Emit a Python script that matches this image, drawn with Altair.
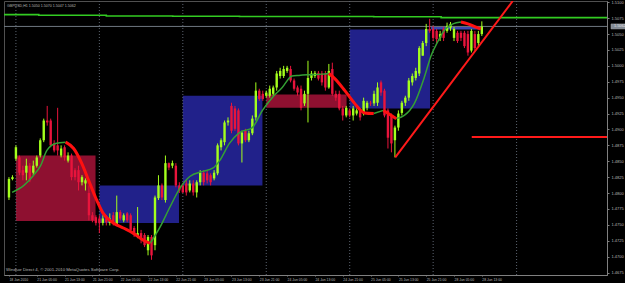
import altair as alt
import pandas as pd

# ---------------- data ----------------
opens = [1.4793,1.4822,1.4854,1.4856,1.4836,1.4832,1.4843,1.4832,1.4843,1.4859,
         1.4883,1.4914,1.4914,1.4878,1.4875,1.4859,1.4872,1.4851,1.4859,1.4836,
         1.4836,1.4817,1.4815,1.4800,1.4765,1.4762,1.4760,1.4753,1.4760,1.4753,
         1.4765,1.4749,1.4770,1.4757,1.4768,1.4765,1.4745,1.4731,1.4737,1.4734,
         1.4710,1.4731,1.4718,1.4792,1.4812,1.4789,1.4847,1.4843,1.4843,1.4812,
         1.4812,1.4815,1.4804,1.4815,1.4801,1.4817,1.4832,1.4831,1.4828,1.4823,
         1.4831,1.4872,1.4880,1.4911,1.4937,1.4933,1.4930,1.4878,1.4898,1.4883,
         1.4894,1.4919,1.4961,1.4956,1.4953,1.4953,1.4956,1.4966,1.4984,1.4984,
         1.4992,1.4995,1.4977,1.4966,1.4964,1.4941,1.4956,1.4981,1.4984,1.4989,
         1.4988,1.4988,1.4966,1.4995,1.4956,1.4956,1.4933,1.4922,1.4930,1.4922,
         1.4925,1.4930,1.4925,1.4934,1.4942,1.4941,1.4942,1.4974,1.4961,1.4930,
         1.4922,1.4883,1.4903,1.4926,1.4942,1.4950,1.4974,1.4981,1.4988,1.5016,
         1.5036,1.5058,1.5058,1.5055,1.5044,1.5058,1.5055,1.5060,1.5044,1.5052,
         1.5052,1.5052,1.5050,1.5024,1.5050,1.5036,1.5050]
highs = [1.4825,1.4828,1.4875,1.4859,1.4843,1.4854,1.4847,1.4851,1.4859,1.4886,
         1.4917,1.4937,1.4917,1.4883,1.4934,1.4875,1.4875,1.4864,1.4862,1.4839,
         1.4843,1.4828,1.4823,1.4812,1.4770,1.4765,1.4765,1.4765,1.4765,1.4768,
         1.4770,1.4796,1.4773,1.4768,1.4770,1.4768,1.4748,1.4778,1.4742,1.4737,
         1.4734,1.4734,1.4796,1.4828,1.4815,1.4859,1.4848,1.4851,1.4847,1.4817,
         1.4815,1.4820,1.4820,1.4820,1.4820,1.4836,1.4836,1.4836,1.4831,1.4836,
         1.4878,1.4886,1.4914,1.4919,1.4942,1.4937,1.4933,1.4898,1.4901,1.4898,
         1.4922,1.4974,1.4964,1.4961,1.4961,1.4969,1.4969,1.4992,1.4997,1.5000,
         1.5000,1.5000,1.4980,1.4969,1.4969,1.4961,1.5008,1.4992,1.4992,1.4992,
         1.4992,1.4992,1.5003,1.5005,1.4961,1.4961,1.4937,1.4937,1.4933,1.4937,
         1.4933,1.4933,1.4950,1.4945,1.4945,1.4961,1.4974,1.4977,1.4964,1.4933,
         1.4925,1.4906,1.4930,1.4945,1.4953,1.4981,1.4988,1.4997,1.5031,1.5039,
         1.5066,1.5074,1.5063,1.5058,1.5055,1.5061,1.5068,1.5069,1.5061,1.5055,
         1.5055,1.5055,1.5055,1.5058,1.5055,1.5055,1.5070]
lows = [1.4789,1.4820,1.4851,1.4828,1.4820,1.4820,1.4817,1.4828,1.4840,1.4856,
        1.4880,1.4906,1.4872,1.4864,1.4859,1.4856,1.4851,1.4848,1.4820,1.4820,
        1.4804,1.4812,1.4804,1.4757,1.4754,1.4749,1.4737,1.4749,1.4749,1.4749,
        1.4749,1.4748,1.4757,1.4754,1.4754,1.4737,1.4731,1.4729,1.4721,1.4715,
        1.4702,1.4695,1.4710,1.4789,1.4789,1.4785,1.4836,1.4839,1.4809,1.4800,
        1.4800,1.4796,1.4801,1.4796,1.4793,1.4812,1.4812,1.4815,1.4812,1.4820,
        1.4828,1.4867,1.4875,1.4906,1.4894,1.4898,1.4875,1.4848,1.4880,1.4880,
        1.4891,1.4914,1.4945,1.4945,1.4950,1.4950,1.4953,1.4961,1.4980,1.4981,
        1.4989,1.4974,1.4961,1.4953,1.4930,1.4937,1.4911,1.4977,1.4981,1.4977,
        1.4969,1.4961,1.4964,1.4953,1.4945,1.4930,1.4914,1.4919,1.4919,1.4914,
        1.4922,1.4914,1.4922,1.4930,1.4937,1.4937,1.4937,1.4953,1.4919,1.4870,
        1.4864,1.4856,1.4898,1.4922,1.4937,1.4945,1.4969,1.4977,1.4984,1.5016,
        1.5031,1.5052,1.5039,1.5036,1.5039,1.5039,1.5052,1.5055,1.5039,1.5036,
        1.5039,1.5028,1.5016,1.5021,1.5024,1.5031,1.5047]
closes = [1.4822,1.4825,1.4872,1.4832,1.4828,1.4843,1.4820,1.4843,1.4856,1.4883,
          1.4914,1.4911,1.4875,1.4867,1.4867,1.4870,1.4856,1.4859,1.4825,1.4825,
          1.4817,1.4825,1.4820,1.4765,1.4757,1.4753,1.4753,1.4760,1.4754,1.4760,
          1.4753,1.4770,1.4760,1.4765,1.4757,1.4742,1.4734,1.4737,1.4726,1.4718,
          1.4731,1.4702,1.4793,1.4812,1.4793,1.4847,1.4840,1.4847,1.4812,1.4804,
          1.4801,1.4801,1.4815,1.4801,1.4817,1.4832,1.4817,1.4820,1.4817,1.4832,
          1.4875,1.4883,1.4911,1.4914,1.4898,1.4901,1.4878,1.4895,1.4883,1.4894,
          1.4917,1.4961,1.4948,1.4948,1.4958,1.4964,1.4966,1.4988,1.4992,1.4995,
          1.4997,1.4977,1.4964,1.4958,1.4934,1.4956,1.4981,1.4988,1.4989,1.4980,
          1.4974,1.4966,1.4992,1.4956,1.4950,1.4933,1.4922,1.4934,1.4922,1.4933,
          1.4930,1.4919,1.4945,1.4942,1.4941,1.4956,1.4966,1.4958,1.4922,1.4887,
          1.4878,1.4903,1.4925,1.4942,1.4950,1.4977,1.4984,1.4992,1.5028,1.5036,
          1.5058,1.5055,1.5044,1.5042,1.5050,1.5044,1.5063,1.5066,1.5058,1.5039,
          1.5044,1.5031,1.5021,1.5055,1.5028,1.5050,1.5062]

# indicator line (bar index, price)
ma_idx = [0.9,4.3,7.1,9.1,10.9,13.4,16.3,18.6,20.9,22.9,24.9,27.1,30,32.9,35.7,38.6,40.6,
          43.4,46.3,49.1,52,55.7,58.6,60.6,63.4,66.3,70,72.9,75.7,78.6,81.4,83.4,86.3,90,92,
          93.7,96.6,99.4,102.3,104.9,107.7,110,111.4,113.7,116.6,119.4,121.4,123.4,125.1,
          127.7,130,132,134.3,135.7]
ma_val = [1.4801,1.4812,1.4828,1.4843,1.4867,1.4878,1.4880,1.4870,1.4847,1.4820,1.4793,
          1.4768,1.4753,1.4745,1.4737,1.4726,1.4721,1.4746,1.4778,1.4807,1.4826,1.4834,
          1.4839,1.4851,1.4878,1.4895,1.4903,1.4930,1.4950,1.4966,1.4984,1.4985,1.4986,
          1.4987,1.4988,1.4980,1.4961,1.4941,1.4926,1.4925,1.4930,1.4922,1.4917,1.4922,
          1.4941,1.4981,1.5016,1.5039,1.5055,1.5066,1.5069,1.5066,1.5061,1.5058]

# daily boxes
box_start = [2, 26, 50, 74, 98, 121.4]
box_end = [24.9, 48.9, 72.9, 97.1, 121.1, 135.7]
box_top = [1.4859, 1.4812, 1.4953, 1.4955, 1.5057, 1.5061]
box_bottom = [1.4756, 1.4753, 1.4812, 1.4934, 1.4933, 1.5057]
box_fill = ["#8e1030", "#21218a", "#21218a", "#8e1030", "#21218a", "#3b47b0"]

# stepped green level line
lvl_idx = [-1.43, 8.57, 28, 47.1, 66.3, 85.4, 104.9, 124.3, 172]
lvl_val = [1.50805, 1.50796, 1.50785, 1.50780, 1.50777, 1.50776, 1.50772, 1.50758, 1.50758]

# trend line and horizontal line
tl_idx = [111.1, 144.9]
tl_val = [1.4856, 1.5102]
hl_idx = [133.1, 172]
hl_val = [1.4888, 1.4888]

bid = 1.5062
separators = [2, 26, 50, 74, 98, 122, 146]

time_labels = ["18 Jun 2010", "21 Jun 05:00", "21 Jun 13:00", "21 Jun 21:00", "22 Jun 05:00",
               "22 Jun 13:00", "22 Jun 21:00", "23 Jun 05:00", "23 Jun 13:00", "23 Jun 21:00",
               "24 Jun 05:00", "24 Jun 13:00", "24 Jun 21:00", "25 Jun 05:00", "25 Jun 13:00",
               "25 Jun 21:00", "28 Jun 05:00", "28 Jun 13:00"]
time_ticks = [0, 8, 16, 24, 32, 40, 48, 56, 64, 72, 80, 88, 96, 104, 112, 120, 128, 136]
price_ticks = [1.4675, 1.4700, 1.4725, 1.4750, 1.4775, 1.4800, 1.4825, 1.4850, 1.4875,
               1.4900, 1.4925, 1.4950, 1.4975, 1.5000, 1.5025, 1.5050, 1.5075, 1.5100]

title_text = "GBPUSD,H1  1.5050 1.5070 1.5047 1.5062"
credit_text = "Windsor Direct 4, \u00a9 2001-2010 MetaQuotes Software Corp."

UP = "#a4ff1c"
DOWN = "#e8143c"

# ---------------- tables ----------------
candles = pd.DataFrame({"i": list(range(len(opens))), "o": opens, "h": highs,
                        "l": lows, "c": closes})
candles["col"] = [UP if c >= o else DOWN for o, c in zip(opens, closes)]

boxes = pd.DataFrame({"x0": box_start, "x1": box_end, "top": box_top,
                      "bot": box_bottom, "fill": box_fill})

rows = []
run = 0
prev = None
for k in range(len(ma_idx) - 1):
    col = "down" if ma_val[k + 1] < ma_val[k] else "up"
    if col != prev:
        run += 1
        prev = col
        rows.append({"i": ma_idx[k], "v": ma_val[k], "run": run, "col": col, "ord": k})
    rows.append({"i": ma_idx[k + 1], "v": ma_val[k + 1], "run": run, "col": col, "ord": k + 1})
ma = pd.DataFrame(rows)

lvl = pd.DataFrame({"i": lvl_idx, "v": lvl_val})
tl = pd.DataFrame({"i": tl_idx, "v": tl_val})
hl = pd.DataFrame({"i": hl_idx, "v": hl_val})
seps = pd.DataFrame({"i": separators})

FONT = "Liberation Sans"
LBL = "#b8b8b8"
GRAYLINE = "#808080"

label_expr = "[" + ",".join("'" + t + "'" for t in time_labels) + "][round(datum.value / 8)]"

xscale = alt.Scale(domain=[-1.4286, 172], nice=False, zero=False, padding=0)
yscale = alt.Scale(domain=[1.46711, 1.5102], nice=False, zero=False, padding=0)

xaxis = alt.Axis(values=time_ticks, labelExpr=label_expr, labelAlign="left",
                 labelFontSize=3.4, labelFont=FONT, labelColor=LBL, tickColor=GRAYLINE,
                 tickSize=2, tickDash=[1, 1], domainColor=GRAYLINE, grid=False, title=None,
                 labelPadding=0, labelOverlap=False, labelFlush=False, labelBound=False,
                 minExtent=8, maxExtent=8)
yaxis = alt.Axis(values=price_ticks, format=".4f", orient="right", labelFontSize=4,
                 labelFont=FONT, labelColor=LBL, tickColor=GRAYLINE, tickSize=2,
                 domainColor=GRAYLINE, grid=False, title=None, labelPadding=2,
                 labelOverlap=False, labelFlush=False, labelBound=False,
                 minExtent=18, maxExtent=18)


def X(field, **kw):
    return alt.X(field, type="quantitative", scale=xscale, axis=xaxis, **kw)


def Y(field, **kw):
    return alt.Y(field, type="quantitative", scale=yscale, axis=yaxis, **kw)


box_layer = alt.Chart(boxes).mark_rect(opacity=1).encode(
    x=X("x0"), x2="x1", y=Y("top"), y2="bot",
    color=alt.Color("fill:N", scale=None, legend=None),
)

sep_layer = alt.Chart(seps).mark_rule(color="#5c6470", strokeDash=[1, 2], strokeWidth=1).encode(
    x=X("i"))

lvl_layer = alt.Chart(lvl).mark_line(color="#33cc22", strokeWidth=1.6,
                                     interpolate="step-after").encode(x=X("i"), y=Y("v"))

bid_layer = alt.Chart(pd.DataFrame({"v": [bid]})).mark_rule(
    color="#6f7780", strokeWidth=1).encode(y=Y("v"))

candle_color = alt.Color("col:N", scale=None, legend=None)

wick_layer = alt.Chart(candles).mark_rule(strokeWidth=1).encode(
    x=X("i"), y=Y("l"), y2="h", color=candle_color)

body_layer = alt.Chart(candles).mark_bar(size=2.4).encode(
    x=X("i"), y=Y("o"), y2="c", color=candle_color)

ma_up = alt.Chart(ma[ma["col"] == "up"]).mark_line(
    color="#34a034", strokeWidth=1.5, interpolate="monotone").encode(
    x=X("i"), y=Y("v"), detail="run:N", order="ord:Q")
ma_dn = alt.Chart(ma[ma["col"] == "down"]).mark_line(
    color="#ff1010", strokeWidth=3, interpolate="monotone").encode(
    x=X("i"), y=Y("v"), detail="run:N", order="ord:Q")

tl_layer = alt.Chart(tl).mark_line(color="#ff1a1a", strokeWidth=2, clip=True).encode(
    x=X("i"), y=Y("v"))
hl_layer = alt.Chart(hl).mark_line(color="#ff1a1a", strokeWidth=2).encode(
    x=X("i"), y=Y("v"))

bid_box = alt.Chart(pd.DataFrame({"v": [bid]})).mark_rect(
    fill="#828a94", stroke="#a8a8a8", strokeWidth=0.5, clip=False, height=5).encode(
    x=alt.value(607), x2=alt.value(624.5), y=Y("v"))
bid_text = alt.Chart(pd.DataFrame({"v": [bid], "t": ["1.5062"]})).mark_text(
    align="left", baseline="middle", fontSize=3.8, font=FONT, color="#e0e0e0", clip=False).encode(
    x=alt.value(610), y=Y("v"), text="t:N")

title_layer = alt.Chart(pd.DataFrame({"t": [title_text]})).mark_text(
    align="left", baseline="middle", fontSize=3.6, font=FONT, color=LBL).encode(
    x=alt.value(3), y=alt.value(5), text="t:N")
credit_layer = alt.Chart(pd.DataFrame({"t": [credit_text]})).mark_text(
    align="left", baseline="middle", fontSize=4.3, font=FONT, color=LBL).encode(
    x=alt.value(2), y=alt.value(268.5), text="t:N")

chart = alt.layer(
    box_layer, sep_layer, lvl_layer, bid_layer, wick_layer, body_layer,
    ma_up, ma_dn, tl_layer, hl_layer, bid_box, bid_text, title_layer, credit_layer
).properties(
    width=625, height=283,
    autosize=alt.AutoSizeParams(type="fit", contains="padding"),
    padding=0,
    background="#000000",
).configure_view(stroke="#505050", strokeWidth=1, fill="#000000")

chart.save("out.html", embed_options={"renderer": "svg", "actions": False})
